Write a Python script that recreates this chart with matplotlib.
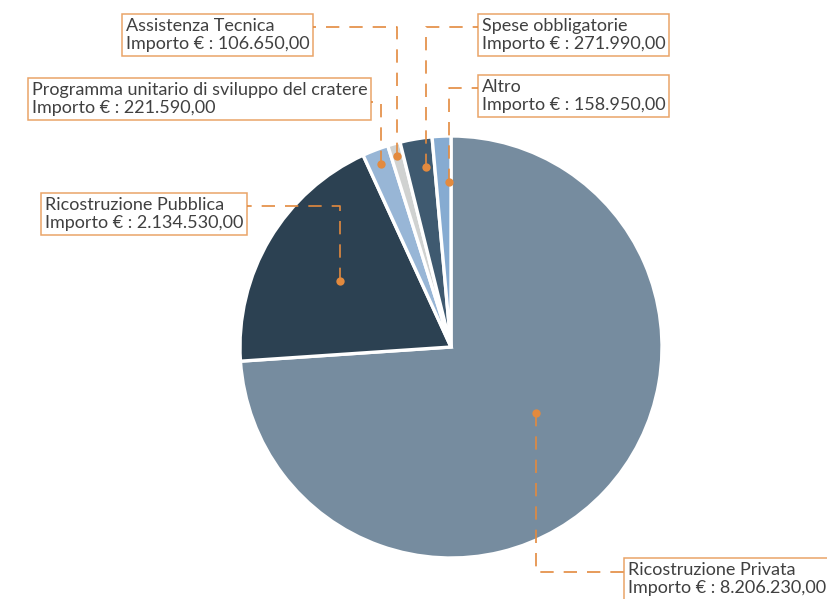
import numpy as np
import matplotlib
matplotlib.use("Agg")
import matplotlib.pyplot as plt

# importi per voce di spesa (euro)
voci = ["Ricostruzione Privata", "Ricostruzione Pubblica",
        "Programma unitario di sviluppo del cratere", "Assistenza Tecnica",
        "Spese obbligatorie", "Altro"]
importi = [8206230.00, 2134530.00, 221590.00, 106650.00, 271990.00, 158950.00]
etichette_importo = ["8.206.230,00", "2.134.530,00", "221.590,00",
                     "106.650,00", "271.990,00", "158.950,00"]

colori = ["#768c9f", "#2c4152", "#98b6d6", "#d0d2d1", "#3f5a70", "#86abd1"]

# layout (pixel dall'alto a sinistra)
W, H = 827, 599
centro = (451, 347)
raggio = 211
r_punto = [0.51, 0.61, 0.93, 0.94, 0.86, 0.78]
sfasa_punto = [-5.3, 0.0, 0.0, 0.0, 1.6, 1.9]   # gradi
y_gomito = [572, 206, 102, 27, 27, 88]
box_pos = [(625, 559), (42, 194), (29, 79), (123, 15), (479, 15), (479, 76)]
lato_box = ["right", "left", "left", "left", "right", "right"]

arancio = "#e38a3e"
bordo_box = "#eaa468"
testo_col = "#404040"

plt.rcParams["font.family"] = ["Lato", "DejaVu Sans"]

fig = plt.figure(figsize=(W / 100, H / 100), dpi=100)
ax = fig.add_axes([0, 0, 1, 1])

# asse y invertito: in coordinate dati gli angoli appaiono specchiati,
# quindi partenza a -90 e verso antiorario = ore 12, senso orario a video
wedges, _ = ax.pie(importi, colors=colori, startangle=-90, counterclock=True,
                   center=centro, radius=raggio,
                   wedgeprops=dict(edgecolor="white", linewidth=2.4))
ax.set_xlim(0, W)
ax.set_ylim(H, 0)
ax.set_aspect("equal")
ax.axis("off")

testi = []
for i, v in enumerate(voci):
    bx, by = box_pos[i]
    t = ax.text(bx + 3, by + 3, f"{v}\nImporto € : {etichette_importo[i]}",
                ha="left", va="top", fontsize=13, color=testo_col,
                linespacing=1.16,
                bbox=dict(boxstyle="square,pad=0.2", fc="white",
                          ec=bordo_box, lw=1.1))
    testi.append(t)

fig.canvas.draw()
inv = ax.transData.inverted()

for i, w in enumerate(wedges):
    th = np.deg2rad((w.theta1 + w.theta2) / 2 + sfasa_punto[i])
    px = centro[0] + r_punto[i] * raggio * np.cos(th)
    py = centro[1] + r_punto[i] * raggio * np.sin(th)
    ext = testi[i].get_bbox_patch().get_window_extent()
    (x0, _), (x1, _) = inv.transform([[ext.x0, ext.y0], [ext.x1, ext.y1]])
    xe = x1 if lato_box[i] == "left" else x0
    ax.plot([px, px, xe], [py, y_gomito[i], y_gomito[i]], color=arancio,
            lw=1.2, ls=(0, (8, 6)), zorder=3)
    ax.plot(px, py, "o", color=arancio, ms=6, mec="none", zorder=4)

fig.savefig("out.png", dpi=100)
